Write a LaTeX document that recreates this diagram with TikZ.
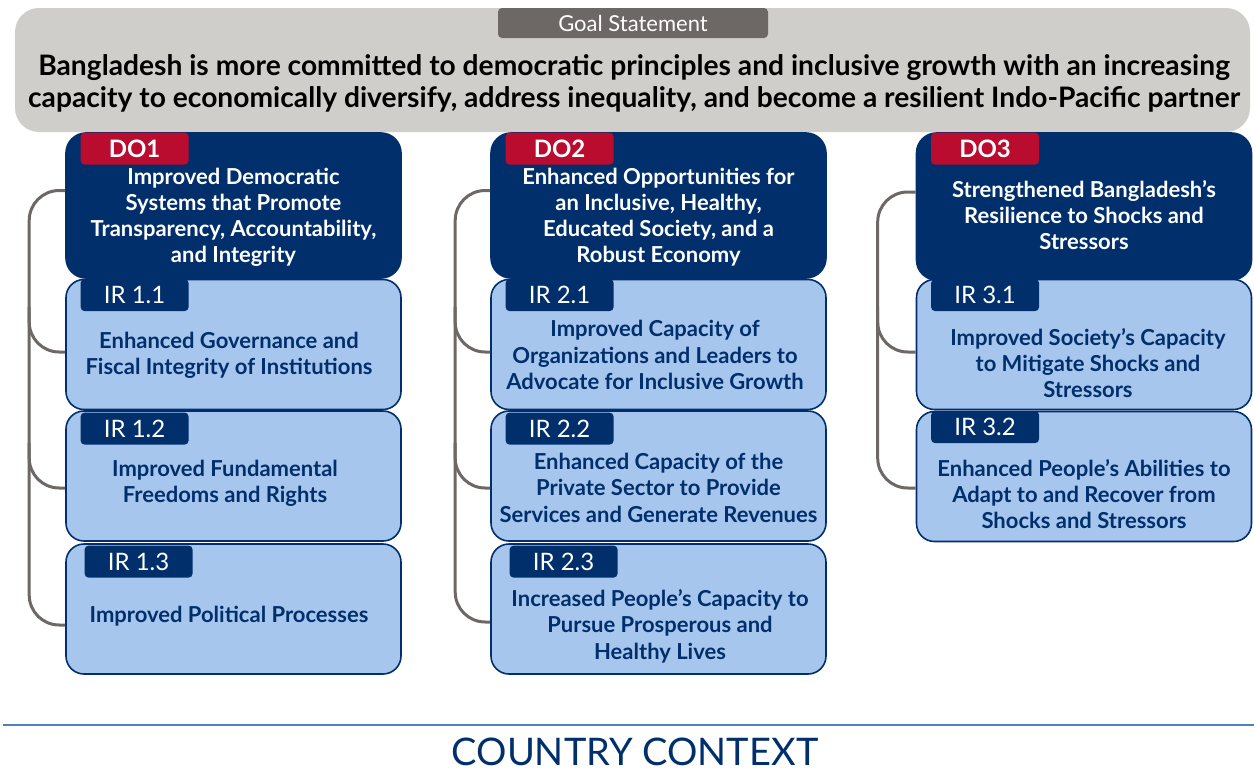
\documentclass[tikz,border=0pt]{standalone}
\usepackage{fontspec}
\setmainfont{Lato}
\usetikzlibrary{positioning}
\definecolor{navy}{HTML}{002F6C}
\definecolor{dored}{HTML}{BA0C2F}
\definecolor{irblue}{HTML}{A7C6ED}
\definecolor{goalgray}{HTML}{D0CECA}
\definecolor{tabgray}{HTML}{6D6866}
\definecolor{rulblue}{HTML}{4F81BD}

\begin{document}
\begin{tikzpicture}[x=0.5pt,y=-0.5pt,
  dobox/.style={draw=navy,fill=navy,rounded corners=10pt,line width=0.8pt,minimum width=167.5pt,minimum height=72.5pt},
  irbox/.style={draw=navy,fill=irblue,rounded corners=9pt,line width=0.8pt,minimum width=167.5pt,minimum height=65pt},
  dotab/.style={fill=dored,rounded corners=2pt,minimum width=54pt,minimum height=16pt,inner sep=0pt,text=white,font=\fontsize{12}{14}\selectfont\bfseries},
  irtab/.style={fill=navy,rounded corners=2pt,minimum width=54pt,minimum height=16pt,inner sep=0pt,text=white,font=\fontsize{12}{14}\selectfont},
  dotext/.style={align=center,text=white,font=\fontsize{11}{13}\selectfont\bfseries},
  irtext/.style={align=center,text=navy,font=\fontsize{11}{13.2}\selectfont\bfseries},
  bracket/.style={draw=tabgray,line width=1.5pt,rounded corners=15pt}]
\useasboundingbox (0,0) rectangle (1254,782);

% goal statement
\node[fill=goalgray,rounded corners=12pt,minimum width=617.5pt,minimum height=62pt] (goal) at (632.5,70) {};
\node[fill=tabgray,rounded corners=2pt,minimum width=135pt,minimum height=15pt,inner sep=0pt,text=white,font=\fontsize{11}{13}\selectfont] (goaltab) at (633,23) {Goal Statement};
\node[align=center,font=\fontsize{14.1}{16}\selectfont\bfseries] (goaltext) at (634,83) {Bangladesh is more committed to democratic principles and inclusive growth with an increasing\\capacity to economically diversify, address inequality, and become a resilient Indo-Pacific partner};

% column 1
\node[dobox] (do1) at (233.5,205.5) {};
\node[irbox] (ir11) at (233.5,344.5) {};
\node[irbox] (ir12) at (233.5,476) {};
\node[irbox] (ir13) at (233.5,609) {};
% column 2
\node[dobox] (do2) at (658.5,205.5) {};
\node[irbox] (ir21) at (658.5,344.5) {};
\node[irbox] (ir22) at (658.5,476) {};
\node[irbox] (ir23) at (658.5,609) {};
% column 3
\node[dobox,minimum height=73.5pt] (do3) at (1084,206.5) {};
\node[irbox] (ir31) at (1084,344.5) {};
\node[irbox] (ir32) at (1084,476.5) {};

% brackets
\draw[bracket] ([yshift=7.5pt]do1.west) -- ++(-36,0) |- ([yshift=-8pt]ir13.west);
\draw[bracket] ([yshift=-3.75pt]ir11.west) -| ++(-36,-45);
\draw[bracket] ([yshift=-6pt]ir12.west) -| ++(-36,-45);
\draw[bracket] ([yshift=7.5pt]do2.west) -- ++(-35,0) |- ([yshift=-6.5pt]ir23.west);
\draw[bracket] ([yshift=-3.75pt]ir21.west) -| ++(-35,-45);
\draw[bracket] ([yshift=-6pt]ir22.west) -| ++(-35,-45);
\draw[bracket] ([yshift=7.25pt]do3.west) -- ++(-38,0) |- ([yshift=-5.75pt]ir32.west);
\draw[bracket] ([yshift=-3.75pt]ir31.west) -| ++(-38,-45);

% tabs
\node[dotab,below right=0pt and 7.5pt of do1.north west] (t1) {DO1};
\node[dotab,below right=0pt and 7.5pt of do2.north west] (t2) {DO2};
\node[dotab,below right=0pt and 7.5pt of do3.north west] (t3) {DO3};
\node[irtab,below right=0pt and 7.5pt of ir11.north west] (t11) {IR 1.1};
\node[irtab,below right=1pt and 7.5pt of ir12.north west] (t12) {IR 1.2};
\node[irtab,below right=1pt and 9.5pt of ir13.north west] (t13) {IR 1.3};
\node[irtab,below right=0pt and 7.5pt of ir21.north west] (t21) {IR 2.1};
\node[irtab,below right=1pt and 7.5pt of ir22.north west] (t22) {IR 2.2};
\node[irtab,below right=1pt and 9.5pt of ir23.north west] (t23) {IR 2.3};
\node[irtab,below right=0pt and 7.5pt of ir31.north west] (t31) {IR 3.1};
\node[irtab,below right=0pt and 7.5pt of ir32.north west] (t32) {IR 3.2};

% texts
\node[dotext] (x1) at (233.5,217.5) {Improved Democratic\\Systems that Promote\\Transparency, Accountability,\\and Integrity};
\node[irtext] (x11) at (229,355.5) {Enhanced Governance and\\Fiscal Integrity of Institutions};
\node[irtext] (x12) at (225,483.5) {Improved Fundamental\\Freedoms and Rights};
\node[irtext] (x13) at (229,616) {Improved Political Processes};
\node[dotext] (x2) at (658.5,217.5) {Enhanced Opportunities for\\an Inclusive, Healthy,\\Educated Society, and a\\Robust Economy};
\node[irtext] (x21) at (655,355) {Improved Capacity of\\Organizations and Leaders to\\Advocate for Inclusive Growth};
\node[irtext] (x22) at (658.5,487.7) {Enhanced Capacity of the\\Private Sector to Provide\\Services and Generate Revenues};
\node[irtext] (x23) at (660,626) {Increased People's Capacity to\\Pursue Prosperous and\\Healthy Lives};
\node[dotext] (x3) at (1084,215) {Strengthened Bangladesh's\\Resilience to Shocks and\\Stressors};
\node[irtext] (x31) at (1088,363) {Improved Society's Capacity\\to Mitigate Shocks and\\Stressors};
\node[irtext] (x32) at (1084,494) {Enhanced People's Abilities to\\Adapt to and Recover from\\Shocks and Stressors};

% country context
\draw[rulblue,line width=1.2pt] (3,725) -- (1254,725);
\node[text=navy,font=\fontsize{19}{22}\selectfont] (ctx) at (635,752) {COUNTRY CONTEXT};
\end{tikzpicture}
\end{document}
